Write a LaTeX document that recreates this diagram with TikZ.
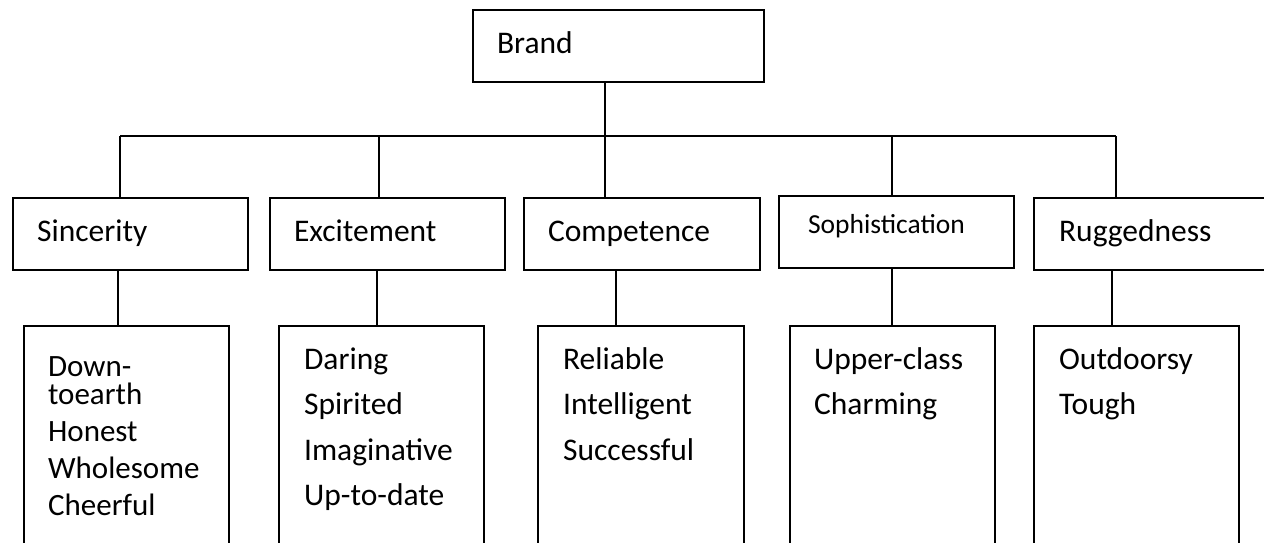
\documentclass[tikz,border=0pt]{standalone}
\usepackage{fontspec}
\setmainfont{Carlito}

\tikzset{
  conn/.style={line width=2.2pt},
  dimbox/.style={draw, line width=2.2pt, anchor=north west, align=left,
    minimum height=72pt, text width=187pt, inner xsep=24pt,
    text height=22pt, text depth=8pt, font=\fontsize{31.5}{37}\selectfont},
  traitbox/.style={draw, line width=2.2pt, anchor=north west, align=left,
    text width=155pt, inner xsep=25pt, inner ysep=0pt,
    text height=43pt, text depth=195pt, font=\fontsize{31.5}{45.5}\selectfont}
}

\begin{document}
\begin{tikzpicture}[x=1pt,y=-1pt]
  \useasboundingbox (0,0) rectangle (1264,543);

  % top of the tree
  \node[dimbox, text width=243pt] (brand) at (472,9) {Brand};

  % the five dimensions
  \node[dimbox] (sinc) at (12,197) {Sincerity};
  \node[dimbox] (exc) at (269,197) {Excitement};
  \node[dimbox, text width=188pt] (comp) at (523,197) {Competence};
  \node[dimbox, text width=177pt, inner xsep=29pt, text height=16pt, text depth=14pt,
    font=\fontsize{27.5}{33}\selectfont] (soph) at (778,195) {Sophistication};
  \node[dimbox, text width=192pt, inner xsep=25pt] (rugg) at (1033,197) {Ruggedness};

  % traits under each dimension
  \node[traitbox, inner xsep=24pt, text width=157pt, text height=50pt, text depth=188pt,
    font=\fontsize{31}{37}\selectfont] (sinc-list) at (23,325)
    {Down-\\[-9pt]toearth\\Honest\\Wholesome\\Cheerful};
  \node[traitbox] (exc-list) at (278,325) {Daring\\Spirited\\Imaginative\\Up-to-date};
  \node[traitbox, text width=156pt] (comp-list) at (537,325) {Reliable\\Intelligent\\Successful};
  \node[traitbox, inner xsep=24pt, text width=157pt] (soph-list) at (789,325) {Upper-class\\Charming};
  \node[traitbox] (rugg-list) at (1033,325) {Outdoorsy\\Tough};

  % bus from the brand
  \coordinate (hub) at (605,136);
  \draw[conn] (brand.south -| hub) -- (comp.north -| hub);
  \foreach \n/\x in {sinc/120,exc/379,soph/892,rugg/1116}{
    \coordinate (\n-up) at (\x,136);
    \draw[conn] (\n-up) -- (\n.north -| \n-up);
  }
  \draw[conn] (sinc-up) -- (rugg-up);

  % drops to the trait boxes
  \foreach \n/\x in {sinc/118,exc/377,comp/616,soph/892,rugg/1112}{
    \coordinate (\n-drop) at (\x,300);
    \draw[conn] (\n.south -| \n-drop) -- (\n-list.north -| \n-drop);
  }
\end{tikzpicture}
\end{document}
